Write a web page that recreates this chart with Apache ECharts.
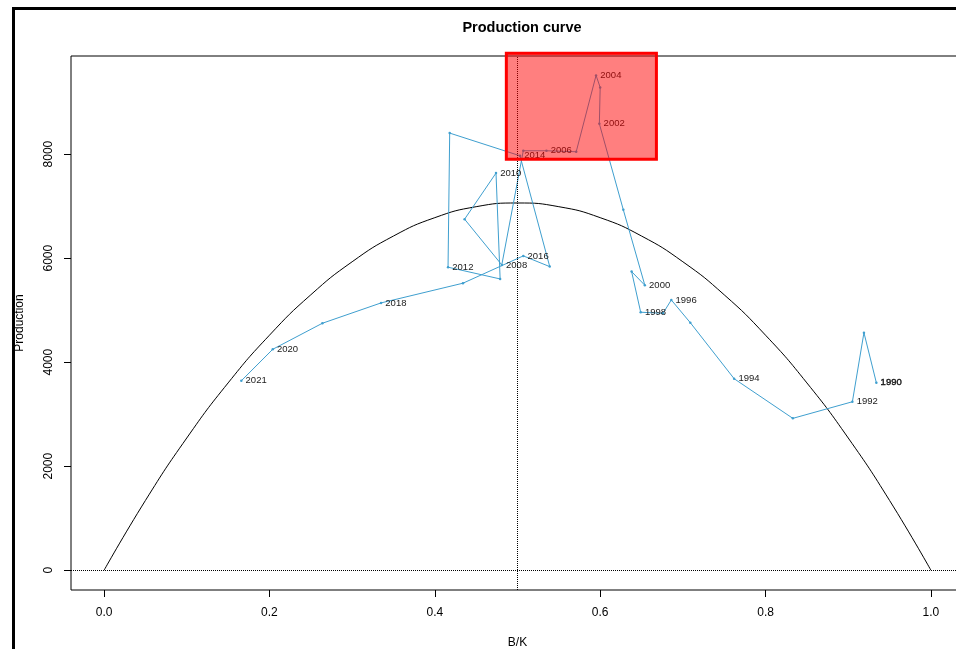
<!DOCTYPE html>
<html>
<head>
<meta charset="utf-8">
<script src="https://cdn.jsdelivr.net/npm/echarts@6/dist/echarts.min.js"></script>
<style>html,body{margin:0;padding:0;background:#fff}#c{width:956px;height:649px}</style>
</head>
<body>
<div id="c"></div>
<script>
// ---- data ----
var years = [1990,1991,1992,1993,1994,1995,1996,1997,1998,1999,2000,2001,2002,2003,2004,2005,2006,2007,2008,2009,2010,2011,2012,2013,2014,2015,2016,2017,2018,2019,2020,2021];
var bk = [0.934,0.919,0.905,0.833,0.762,0.709,0.686,0.676,0.649,0.638,0.654,0.628,0.599,0.600,0.595,0.571,0.535,0.507,0.481,0.436,0.474,0.479,0.416,0.418,0.503,0.539,0.507,0.434,0.335,0.264,0.204,0.166];
var production = [3605,4567,3239,2920,3682,4759,5196,4940,4960,5741,5479,6928,8583,9282,9513,8045,8064,8064,5870,6749,7635,5600,5826,8404,7968,5837,6043,5518,5139,4748,4248,3643];
var labelledYears = [1990,1992,1994,1996,1998,2000,2002,2004,2006,2008,2010,2012,2014,2016,2018,2020,2021];
var curveX = [0,0.05,0.1,0.15,0.2,0.25,0.3,0.35,0.4,0.45,0.5,0.55,0.6,0.65,0.7,0.75,0.8,0.85,0.9,0.95,1];
var curveY = [0,1341,2542,3601,4518,5295,5930,6425,6778,6989,7060,6989,6778,6425,5930,5295,4518,3601,2542,1341,0];
var xTicks = [0,0.2,0.4,0.6,0.8,1.0];
var yTicks = [0,2000,4000,6000,8000];
var highlightBox = [0.4865,7900,0.668,9940];

var FONT = 'Liberation Sans, Arial, sans-serif';
var chart = echarts.init(document.getElementById('c'), null, {renderer:'canvas'});

var trajData = years.map(function(y,i){
  var item = {value:[bk[i], production[i]]};
  if (labelledYears.indexOf(y) >= 0) {
    item.label = {show:true, formatter:String(y)};
    if (y === 1990) { item.label.textBorderColor = '#111'; item.label.textBorderWidth = 0.4; }
  }
  return item;
});
var curveData = curveX.map(function(x,i){ return [x, curveY[i]]; });

chart.setOption({
  animation:false,
  backgroundColor:'#ffffff',
  title:{text:'Production curve', left:517, top:15, textAlign:'center',
    textStyle:{fontFamily:FONT, fontSize:14.5, fontWeight:'bold', color:'#000'}},
  grid:{left:71, top:56, width:893, height:534, show:true, borderColor:'#000', borderWidth:1,
    backgroundColor:'transparent', containLabel:false, outerBoundsMode:'none'},
  xAxis:{type:'value', min:-0.04, max:1.04,
    name:'B/K', nameLocation:'middle', nameGap:47,
    nameTextStyle:{fontFamily:FONT, fontSize:12, color:'#000'},
    axisLine:{show:false, onZero:false}, splitLine:{show:false},
    axisTick:{show:true, length:7, lineStyle:{color:'#000'}, customValues:xTicks},
    axisLabel:{fontFamily:FONT, fontSize:12, color:'#000', margin:17, customValues:xTicks,
      formatter:function(v){return Number(v).toFixed(1);}}},
  yAxis:{type:'value', min:-380, max:9886,
    name:'Production', nameLocation:'middle', nameGap:45, nameRotate:90,
    nameTextStyle:{fontFamily:FONT, fontSize:12, color:'#000'},
    axisLine:{show:false, onZero:false}, splitLine:{show:false},
    axisTick:{show:true, length:7, lineStyle:{color:'#000'}, customValues:yTicks},
    axisLabel:{fontFamily:FONT, fontSize:12, color:'#000', margin:16, rotate:90, customValues:yTicks,
      formatter:function(v){return String(v);}}},
  series:[
    {type:'line', data:curveData, smooth:true, showSymbol:false, silent:true, z:2,
      lineStyle:{color:'#000', width:1},
      markLine:{silent:true, symbol:['none','none'], label:{show:false},
        lineStyle:{color:'#000', type:'dotted', width:1},
        data:[{xAxis:0.5},{yAxis:0}]}},
    {type:'line', data:trajData, z:3, symbol:'circle', symbolSize:2.5, showSymbol:true,
      itemStyle:{color:'#3f9fcf'}, lineStyle:{color:'#3f9fcf', width:1},
      label:{show:false, position:'right', distance:3, fontFamily:FONT, fontSize:9.5, color:'#1a1a1a'}},
    {type:'custom', z:10, clip:false, silent:true, data:[highlightBox],
      renderItem:function(params, api){
        var p1 = api.coord([api.value(0), api.value(3)]);
        var p2 = api.coord([api.value(2), api.value(1)]);
        return {type:'rect', shape:{x:p1[0], y:p1[1], width:p2[0]-p1[0], height:p2[1]-p1[1]},
          style:{fill:'rgba(255,0,0,0.5)', stroke:'#ff0000', lineWidth:3}};
      }}
  ],
  graphic:[{type:'rect', silent:true, z:100, shape:{x:13.5, y:8.5, width:2000, height:2000},
    style:{fill:null, stroke:'#000', lineWidth:3}}]
});
</script>
</body>
</html>
